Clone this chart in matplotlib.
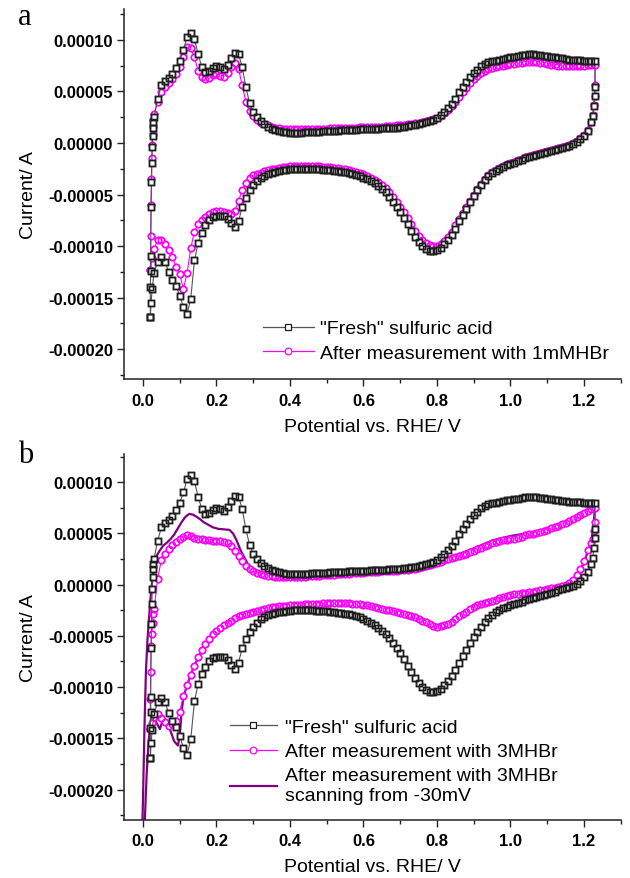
import matplotlib
matplotlib.use('Agg')
import matplotlib.pyplot as plt
from matplotlib.ticker import MultipleLocator, FuncFormatter, FormatStrFormatter
from matplotlib.lines import Line2D

plt.rcParams['font.family'] = ['Liberation Sans', 'DejaVu Sans']

# ---------------- data (current in units of 1e-5 A) ----------------
SCALE = 1e-5

# shared potential grid (V vs RHE), 0.03 ... 1.22
E_GRID = [0.03, 0.04, 0.05, 0.06, 0.07, 0.08, 0.09,
          0.10, 0.11, 0.12, 0.13, 0.14, 0.15, 0.16, 0.17, 0.18, 0.19,
          0.20, 0.21, 0.22, 0.23, 0.24, 0.25, 0.26, 0.27, 0.28, 0.29,
          0.30, 0.31, 0.32, 0.33, 0.34, 0.35, 0.36, 0.37, 0.38, 0.39,
          0.40, 0.41, 0.42, 0.43, 0.44, 0.45, 0.46, 0.47, 0.48, 0.49,
          0.50, 0.51, 0.52, 0.53, 0.54, 0.55, 0.56, 0.57, 0.58, 0.59,
          0.60, 0.61, 0.62, 0.63, 0.64, 0.65, 0.66, 0.67, 0.68, 0.69,
          0.70, 0.71, 0.72, 0.73, 0.74, 0.75, 0.76, 0.77, 0.78, 0.79,
          0.80, 0.81, 0.82, 0.83, 0.84, 0.85, 0.86, 0.87, 0.88, 0.89,
          0.90, 0.91, 0.92, 0.93, 0.94, 0.95, 0.96, 0.97, 0.98, 0.99,
          1.00, 1.01, 1.02, 1.03, 1.04, 1.05, 1.06, 1.07, 1.08, 1.09,
          1.10, 1.11, 1.12, 1.13, 1.14, 1.15, 1.16, 1.17, 1.18, 1.19,
          1.20, 1.21, 1.22]

# ---- "Fresh" sulfuric acid ----
fresh_start_E = [0.020, 0.020, 0.021, 0.021, 0.022, 0.023, 0.024, 0.025, 0.026, 0.027, 0.028]
fresh_start_I = [-16.9, -14.0, -12.4, -11.0, -6.2, -3.8, -1.9, -0.4, 0.7, 1.5, 2.0]
fresh_anodic_I = [2.5, 4.3, 5.6, 6.0, 6.3, 6.7, 7.3,
                  8.0, 9.0, 10.3, 10.7, 10.1, 8.6, 7.4, 6.9, 7.0, 7.3,
                  7.5, 7.4, 7.2, 7.6, 8.2, 8.7, 8.6, 7.4, 5.4, 3.9,
                  3.0, 2.5, 2.1, 1.8, 1.6, 1.4, 1.3, 1.2, 1.1, 1.05,
                  1.0, 1.0, 1.0, 1.0, 1.05, 1.05, 1.1, 1.1, 1.1, 1.15,
                  1.15, 1.2, 1.2, 1.2, 1.25, 1.25, 1.3, 1.3, 1.3, 1.35,
                  1.35, 1.35, 1.4, 1.4, 1.4, 1.45, 1.45, 1.5, 1.5, 1.5,
                  1.55, 1.6, 1.65, 1.7, 1.75, 1.8, 1.9, 2.0, 2.1, 2.25,
                  2.45, 2.7, 3.0, 3.35, 3.8, 4.3, 4.9, 5.4, 5.9, 6.4,
                  6.8, 7.1, 7.5, 7.7, 7.85, 7.95, 8.0, 8.05, 8.15, 8.25,
                  8.3, 8.35, 8.4, 8.5, 8.55, 8.6, 8.6, 8.55, 8.5, 8.45,
                  8.4, 8.35, 8.3, 8.25, 8.2, 8.15, 8.1, 8.1, 8.05, 8.05,
                  8.0, 8.0, 8.0]
fresh_top_E = [1.23, 1.23, 1.229, 1.227, 1.224]
fresh_top_I = [8.0, 5.4, 4.6, 3.6, 2.6]
fresh_cathodic_I = [2.0, 1.2, 0.7,
                    0.35, 0.1, -0.1, -0.25, -0.35, -0.45, -0.55, -0.7, -0.8, -0.9,
                    -1.0, -1.1, -1.2, -1.3, -1.4, -1.5, -1.65, -1.75, -1.9, -2.0,
                    -2.15, -2.3, -2.5, -2.7, -2.95, -3.25, -3.6, -4.1, -4.6, -5.1,
                    -5.7, -6.4, -7.0, -7.6, -8.3, -8.9, -9.4, -9.8, -10.2, -10.4,
                    -10.5, -10.5, -10.3, -10.0, -9.6, -9.1, -8.5, -7.9, -7.3, -6.7,
                    -6.2, -5.7, -5.2, -4.8, -4.5, -4.2, -3.9, -3.7, -3.5, -3.35,
                    -3.2, -3.1, -3.0, -2.9, -2.85, -2.8, -2.75, -2.7, -2.65, -2.6,
                    -2.6, -2.55, -2.55, -2.5, -2.5, -2.5, -2.5, -2.5, -2.5, -2.55,
                    -2.6, -2.65, -2.7, -2.8, -2.9, -3.0, -3.2, -3.4, -3.7, -4.1,
                    -4.6, -5.3, -6.2, -7.6, -8.2, -7.8, -7.4, -7.1, -7.05, -7.1,
                    -7.2, -7.5, -8.0, -8.7, -9.7, -11.4, -15.1, -16.6, -15.9, -14.8,
                    -13.9, -13.3, -12.5, -11.5, -11.1, -11.5, -12.6]
fresh_end_E = [0.025, 0.022, 0.020]
fresh_end_I = [-14.2, -15.5, -16.9]

# ---- After measurement with 1mM HBr ----
mm1_start_E = [0.020, 0.021, 0.022, 0.023, 0.024, 0.025, 0.026, 0.027, 0.028]
mm1_start_I = [-12.3, -9.0, -6.0, -3.5, -1.5, -0.2, 0.8, 1.6, 2.2]
mm1_anodic_I = [2.8, 4.0, 4.9, 5.4, 5.8, 6.2, 6.7,
                7.4, 8.3, 9.3, 9.2, 8.3, 7.0, 6.4, 6.2, 6.3, 6.6,
                6.7, 6.5, 6.4, 6.8, 7.4, 7.8, 7.2, 5.6, 4.0, 3.1,
                2.6, 2.2, 1.95, 1.8, 1.7, 1.6, 1.5, 1.45, 1.4, 1.4,
                1.35, 1.35, 1.35, 1.35, 1.35, 1.35, 1.4, 1.4, 1.4, 1.4,
                1.4, 1.45, 1.45, 1.45, 1.45, 1.5, 1.5, 1.5, 1.5, 1.55,
                1.55, 1.55, 1.6, 1.6, 1.6, 1.6, 1.65, 1.65, 1.65, 1.7,
                1.7, 1.75, 1.8, 1.85, 1.9, 1.95, 2.0, 2.1, 2.2, 2.3,
                2.45, 2.65, 2.9, 3.2, 3.55, 4.0, 4.45, 4.9, 5.35, 5.8,
                6.2, 6.5, 6.8, 7.0, 7.15, 7.25, 7.35, 7.45, 7.5, 7.6,
                7.65, 7.7, 7.75, 7.8, 7.85, 7.9, 7.9, 7.85, 7.8, 7.75,
                7.7, 7.6, 7.55, 7.5, 7.45, 7.45, 7.45, 7.45, 7.5, 7.5,
                7.5, 7.55, 7.6]
mm1_top_E = [1.23, 1.23, 1.229, 1.227, 1.224]
mm1_top_I = [7.6, 5.6, 4.6, 3.7, 2.7]
mm1_cathodic_I = [2.0, 1.3, 0.8,
                  0.45, 0.2, 0.0, -0.15, -0.25, -0.35, -0.45, -0.6, -0.7, -0.8,
                  -0.9, -1.0, -1.1, -1.2, -1.3, -1.4, -1.55, -1.65, -1.8, -1.9,
                  -2.05, -2.2, -2.4, -2.6, -2.85, -3.15, -3.5, -4.0, -4.5, -5.0,
                  -5.6, -6.2, -6.8, -7.4, -8.0, -8.6, -9.1, -9.5, -9.8, -10.0,
                  -10.0, -9.9, -9.7, -9.4, -9.0, -8.5, -7.9, -7.3, -6.7, -6.2,
                  -5.7, -5.2, -4.8, -4.4, -4.1, -3.8, -3.55, -3.35, -3.2, -3.05,
                  -2.9, -2.8, -2.7, -2.6, -2.55, -2.5, -2.45, -2.4, -2.35, -2.3,
                  -2.3, -2.25, -2.25, -2.2, -2.2, -2.2, -2.2, -2.2, -2.2, -2.25,
                  -2.3, -2.35, -2.4, -2.5, -2.55, -2.6, -2.75, -2.9, -3.0, -3.1,
                  -3.4, -3.9, -4.6, -5.6, -6.6, -6.9, -6.8, -6.7, -6.6, -6.6,
                  -6.7, -6.9, -7.2, -7.5, -7.9, -8.6, -10.2, -12.6, -14.2, -12.7,
                  -12.0, -11.1, -10.4, -9.8, -9.4, -9.4, -10.3]
mm1_end_E = [0.025, 0.020]
mm1_end_I = [-11.2, -12.3]

# ---- After measurement with 3M HBr ----
m3_start_E = [0.020, 0.020, 0.021, 0.022, 0.024, 0.026, 0.028]
m3_start_I = [-14.1, -11.2, -8.5, -6.0, -4.8, -3.7, -2.9]
m3_anodic_I = [-2.4, 0.6, 2.4, 3.0, 3.5, 3.9, 4.2,
               4.45, 4.65, 4.8, 4.75, 4.6, 4.5, 4.45, 4.4, 4.35, 4.3,
               4.3, 4.25, 4.2, 4.05, 3.8, 3.3, 2.8, 2.3, 1.85, 1.5,
               1.3, 1.15, 1.0, 0.9, 0.85, 0.8, 0.75, 0.75, 0.7, 0.7,
               0.7, 0.7, 0.7, 0.75, 0.75, 0.8, 0.8, 0.85, 0.85, 0.9,
               0.9, 0.95, 0.95, 1.0, 1.0, 1.05, 1.05, 1.1, 1.1, 1.15,
               1.15, 1.2, 1.2, 1.25, 1.25, 1.3, 1.3, 1.3, 1.35, 1.35,
               1.4, 1.4, 1.45, 1.5, 1.55, 1.6, 1.7, 1.8, 1.9, 2.0,
               2.1, 2.25, 2.4, 2.5, 2.6, 2.7, 2.8, 2.9, 3.0, 3.15,
               3.3, 3.45, 3.6, 3.75, 3.9, 4.05, 4.15, 4.25, 4.35, 4.4,
               4.45, 4.5, 4.6, 4.7, 4.8, 4.9, 4.95, 5.05, 5.15, 5.25,
               5.35, 5.5, 5.6, 5.75, 5.9, 6.05, 6.2, 6.4, 6.6, 6.8,
               7.0, 7.2, 7.35]
m3_top_E = [1.23, 1.23, 1.228, 1.225]
m3_top_I = [7.5, 6.1, 5.2, 4.5]
m3_cathodic_I = [4.1, 3.4, 2.3,
                 1.5, 0.9, 0.5, 0.2, 0.0, -0.1, -0.2, -0.3, -0.35, -0.4,
                 -0.5, -0.55, -0.6, -0.7, -0.75, -0.8, -0.85, -0.9, -0.95, -1.0,
                 -1.1, -1.2, -1.35, -1.45, -1.55, -1.65, -1.75, -1.85, -2.0, -2.2,
                 -2.4, -2.65, -2.9, -3.1, -3.35, -3.6, -3.8, -3.95, -4.05, -4.1,
                 -4.0, -3.85, -3.65, -3.5, -3.35, -3.2, -3.1, -3.0, -2.9, -2.8,
                 -2.7, -2.6, -2.5, -2.45, -2.35, -2.25, -2.15, -2.05, -2.0, -1.95,
                 -1.9, -1.85, -1.85, -1.8, -1.8, -1.8, -1.8, -1.8, -1.8, -1.8,
                 -1.8, -1.85, -1.85, -1.85, -1.9, -1.9, -1.95, -1.95, -2.0, -2.0,
                 -2.05, -2.1, -2.1, -2.15, -2.2, -2.3, -2.4, -2.5, -2.6, -2.7,
                 -2.8, -2.9, -3.0, -3.1, -3.3, -3.5, -3.7, -3.9, -4.2, -4.5,
                 -4.8, -5.3, -5.8, -6.4, -7.1, -7.9, -8.8, -9.8, -10.9, -12.4,
                 -13.3, -13.6, -13.8, -13.4, -13.0, -12.6, -12.9]
m3_end_E = [0.025, 0.020]
m3_end_I = [-13.5, -14.1]

# ---- After measurement with 3M HBr, scanning from -30 mV (line) ----
m30_anodic_E = [-0.03, -0.02, -0.01, -0.005, 0.0, 0.004, 0.008, 0.012, 0.016, 0.02,
                0.025, 0.03, 0.037, 0.045, 0.055, 0.065, 0.075, 0.085, 0.095, 0.105,
                0.115, 0.125, 0.135, 0.145, 0.155, 0.165, 0.175, 0.19, 0.205, 0.22,
                0.235, 0.245, 0.255, 0.265, 0.275, 0.285, 0.30, 0.32, 0.34, 0.37,
                0.40, 0.45, 0.50, 0.55, 0.60, 0.65, 0.70, 0.75, 0.80, 0.85,
                0.90, 0.95, 1.00, 1.05, 1.10, 1.15, 1.20, 1.23]
m30_anodic_I = [-60.0, -48.0, -35.0, -28.0, -21.0, -14.0, -8.5, -5.5, -3.5, -1.5,
                0.3, 1.5, 2.8, 3.3, 3.8, 4.1, 4.45, 4.9, 5.5, 6.1,
                6.6, 6.9, 6.85, 6.65, 6.4, 6.1, 5.9, 5.6, 5.45, 5.4,
                5.35, 5.0, 4.3, 3.4, 2.7, 2.05, 1.55, 1.2, 1.0, 0.85,
                0.75, 0.8, 0.9, 1.05, 1.15, 1.3, 1.4, 1.65, 2.15, 2.85,
                3.55, 4.3, 4.75, 5.05, 5.45, 6.1, 7.0, 7.5]
m30_cathodic_E = [1.23, 1.225, 1.22, 1.21, 1.20, 1.19, 1.18, 1.16, 1.14, 1.10,
                  1.05, 1.00, 0.95, 0.90, 0.87, 0.85, 0.83, 0.81, 0.80, 0.79,
                  0.77, 0.75, 0.72, 0.70, 0.65, 0.60, 0.55, 0.50, 0.45, 0.40,
                  0.35, 0.30, 0.25, 0.20, 0.18, 0.16, 0.14, 0.13, 0.12, 0.11,
                  0.105, 0.10, 0.095, 0.085, 0.075, 0.065, 0.055, 0.046, 0.037, 0.03,
                  0.024, 0.02, 0.015, 0.01, 0.005, 0.0, -0.01, -0.02, -0.03]
m30_cathodic_I = [7.5, 5.5, 4.2, 3.2, 2.2, 1.4, 0.85, 0.2, -0.1, -0.4,
                  -0.75, -1.0, -1.6, -2.3, -3.0, -3.5, -4.0, -4.3, -4.4, -4.3,
                  -3.8, -3.4, -3.0, -2.8, -2.35, -1.95, -1.8, -1.8, -1.9, -2.0,
                  -2.2, -2.7, -3.3, -4.5, -5.3, -6.4, -7.9, -8.8, -9.8, -11.0,
                  -12.4, -14.8, -15.7, -15.3, -14.3, -13.4, -13.1, -14.1, -13.5, -13.0,
                  -12.9, -13.5, -15.5, -18.5, -23.0, -28.0, -40.0, -50.0, -60.0]

LEG_A = ['"Fresh" sulfuric acid', 'After measurement with 1mMHBr']
LEG_B = ['"Fresh" sulfuric acid', 'After measurement with 3MHBr',
         'After measurement with 3MHBr\nscanning from -30mV']


def cv(start_E, start_I, anodic_I, top_E, top_I, cathodic_I, end_E, end_I):
    x = list(start_E) + list(E_GRID) + list(top_E) + list(E_GRID[::-1]) + list(end_E)
    y = list(start_I) + list(anodic_I) + list(top_I) + list(cathodic_I) + list(end_I)
    return x, [v * SCALE for v in y]


fresh_x, fresh_y = cv(fresh_start_E, fresh_start_I, fresh_anodic_I, fresh_top_E, fresh_top_I,
                      fresh_cathodic_I, fresh_end_E, fresh_end_I)
mm1_x, mm1_y = cv(mm1_start_E, mm1_start_I, mm1_anodic_I, mm1_top_E, mm1_top_I,
                  mm1_cathodic_I, mm1_end_E, mm1_end_I)
m3_x, m3_y = cv(m3_start_E, m3_start_I, m3_anodic_I, m3_top_E, m3_top_I,
                m3_cathodic_I, m3_end_E, m3_end_I)
m30_x = m30_anodic_E + m30_cathodic_E
m30_y = [v * SCALE for v in (m30_anodic_I + m30_cathodic_I)]

# ---------------- styles ----------------
BLACK_EDGE = '#1e1e1e'
BLACK_LINE = '#555555'
MAGENTA = '#ff00ff'
PURPLE = '#800080'
sq_style = dict(color=BLACK_LINE, lw=0.8, marker='s', ms=4.3, mfc='white',
                mec=BLACK_EDGE, mew=1.05)
ci_style = dict(color=MAGENTA, lw=0.8, marker='o', ms=4.6, mfc='white',
                mec=MAGENTA, mew=1.05)
pu_style = dict(color=PURPLE, lw=1.6)
leg_sq = dict(color=BLACK_LINE, lw=0.9, marker='s', ms=4.6, mfc='white',
              mec=BLACK_EDGE, mew=0.9)
leg_ci = dict(color=MAGENTA, lw=0.9, marker='o', ms=4.8, mfc='white',
              mec=MAGENTA, mew=0.9)


def draw_markers(ax, x, y, style, z):
    # open symbols: white faces hide what lies below, edges of all symbols stay visible
    ax.plot(x, y, zorder=z, **style)
    ax.plot(x, y, ls='none', marker=style['marker'], ms=style['ms'], mfc='none',
            mec=style['mec'], mew=style['mew'], zorder=z + 0.1)


TICK_FS = 12
LABEL_FS = 14
LEG_FS = 14

fig = plt.figure(figsize=(6.3, 8.79), dpi=100)
ax_a = fig.add_axes([0.1968, 0.5677, 0.7889, 0.4209])
ax_b = fig.add_axes([0.1968, 0.0663, 0.7889, 0.4161])


def yfmt(v, p):
    if abs(v) < 1e-12:
        return '0.00000'
    return '%.5f' % v


def style_axes(ax, ylim):
    ax.set_xlim(-0.0517, 1.3007)
    ax.set_ylim(*ylim)
    for s in ('top', 'right'):
        ax.spines[s].set_visible(False)
    for s in ('left', 'bottom'):
        ax.spines[s].set_linewidth(1.1)
        ax.spines[s].set_color('#222222')
    ax.xaxis.set_major_locator(MultipleLocator(0.2))
    ax.xaxis.set_minor_locator(MultipleLocator(0.1))
    ax.yaxis.set_major_locator(MultipleLocator(5e-5))
    ax.yaxis.set_minor_locator(MultipleLocator(2.5e-5))
    ax.xaxis.set_major_formatter(FormatStrFormatter('%.1f'))
    ax.yaxis.set_major_formatter(FuncFormatter(yfmt))
    ax.tick_params(which='major', direction='out', length=4.8, width=1.0, color='#222222')
    ax.tick_params(which='minor', direction='out', length=3.2, width=1.0, color='#222222')
    ax.tick_params(axis='x', which='major', pad=5)
    ax.tick_params(axis='y', which='major', pad=3)
    for lab in ax.get_xticklabels() + ax.get_yticklabels():
        lab.set_fontweight('bold')
        lab.set_fontsize(TICK_FS)
    ax.set_xlabel('Potential vs. RHE/ V', fontsize=LABEL_FS)
    ax.set_ylabel('Current/ A', fontsize=LABEL_FS)
    ax.yaxis.set_label_coords(-0.175, 0.5)
    ax.xaxis.set_label_coords(0.5, -0.105)


# panel a
draw_markers(ax_a, mm1_x, mm1_y, ci_style, 2)
draw_markers(ax_a, fresh_x, fresh_y, sq_style, 3)
style_axes(ax_a, (-0.000229, 0.00013))
ha = [Line2D([], [], **leg_sq), Line2D([], [], **leg_ci)]
ax_a.legend(ha, LEG_A, loc='upper left', bbox_to_anchor=(0.28, 0.16), frameon=False,
            fontsize=LEG_FS, handlelength=2.6, handletextpad=0.3, labelspacing=0.35,
            borderpad=0, borderaxespad=0, numpoints=1)

# panel b
ax_b.plot(m30_x, m30_y, zorder=2, **pu_style)
draw_markers(ax_b, m3_x, m3_y, ci_style, 3)
draw_markers(ax_b, fresh_x, fresh_y, sq_style, 4)
style_axes(ax_b, (-0.0002295, 0.0001276))
hb = [Line2D([], [], **leg_sq), Line2D([], [], **leg_ci), Line2D([], [], **pu_style)]
leg_b = ax_b.legend(hb, LEG_B, loc='upper left', bbox_to_anchor=(0.213, 0.277), frameon=False,
                    fontsize=LEG_FS, handlelength=2.4, handletextpad=0.45, labelspacing=0.35,
                    borderpad=0, borderaxespad=0, numpoints=1)
for t in leg_b.get_texts():
    t.set_linespacing(1.25)

fig.text(18 / 630, 1 - 25 / 879, 'a', fontsize=22, family=['Liberation Serif', 'DejaVu Serif'],
         va='baseline', ha='left')
fig.text(18 / 630, 1 - 463 / 879, 'b', fontsize=22, family=['Liberation Serif', 'DejaVu Serif'],
         va='baseline', ha='left')

fig.savefig('out.png', dpi=100)
